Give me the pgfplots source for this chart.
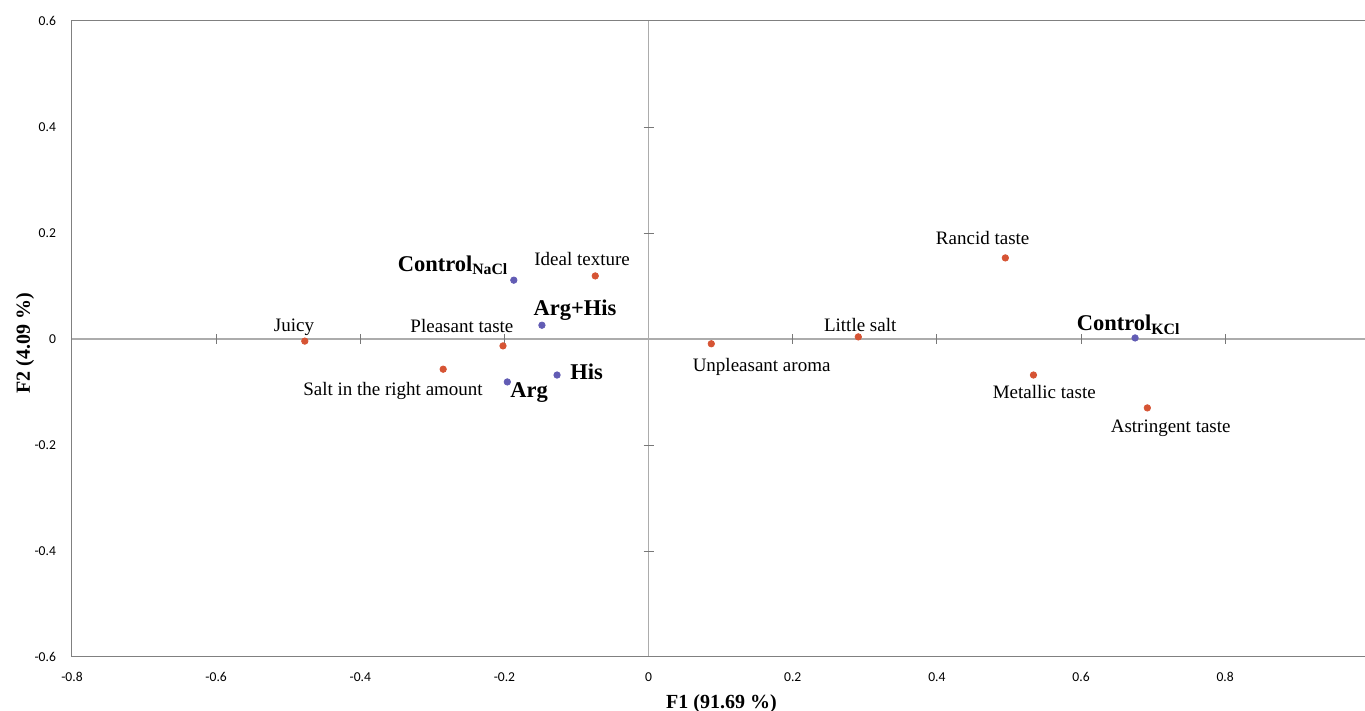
\documentclass[border=0pt]{standalone}
\usepackage{fontspec}
\setmainfont{Liberation Serif}
\newfontfamily\carlito{Carlito}
\usepackage{pgfplots}
\pgfplotsset{compat=1.18}
\definecolor{ptred}{RGB}{214,84,52}
\definecolor{ptblue}{RGB}{98,92,180}
\definecolor{framegray}{RGB}{128,128,128}
\definecolor{zerogray}{RGB}{172,172,172}
\definecolor{tickgray}{RGB}{120,120,120}
\begin{document}
\begin{tikzpicture}
\begin{axis}[
  scale only axis, width=646.5pt, height=318pt,
  xmin=-0.8, xmax=0.994, ymin=-0.6, ymax=0.6,
  axis line style={draw=none},
  clip=false,
  xtick={-0.8,-0.6,-0.4,-0.2,0,0.2,0.4,0.6,0.8},
  ytick={-0.6,-0.4,-0.2,0,0.2,0.4,0.6},
  major tick length=0pt,
  xticklabel style={font=\carlito\fontsize{6.8}{8}\selectfont, yshift=-4.3pt, /pgf/number format/.cd, fixed, precision=1, assume math mode=true},
  yticklabel style={font=\carlito\fontsize{6.8}{8}\selectfont, xshift=-4.5pt, /pgf/number format/.cd, fixed, precision=1, assume math mode=true},
  xlabel={\fontsize{10}{12}\selectfont\bfseries F1 (91.69 \%)},
  ylabel={\fontsize{10}{12}\selectfont\bfseries F2 (4.09 \%)},
  xlabel style={at={(axis description cs:0.5023,-0.0802)}, anchor=base},
  ylabel style={at={(axis description cs:-0.0325,0.4937)}, anchor=base},
]
% zero lines
\draw[zerogray, line width=0.6pt] (axis cs:-0.8,0) -- (axis cs:0.994,0);
\draw[zerogray, line width=0.6pt] (axis cs:0,-0.6) -- (axis cs:0,0.6);
% frame
\draw[framegray, line width=0.5pt] (rel axis cs:1,1) -- (rel axis cs:0,1) -- (rel axis cs:0,0) -- (rel axis cs:1,0);
% crossing ticks on zero lines
\pgfplotsinvokeforeach{-0.6,-0.4,-0.2,0.2,0.4,0.6,0.8}{
  \draw[tickgray, line width=0.4pt] (axis cs:#1,0) ++(0pt,-2.5pt) -- ++(0pt,5pt);
}
\pgfplotsinvokeforeach{-0.4,-0.2,0.2,0.4}{
  \draw[tickgray, line width=0.4pt] (axis cs:0,#1) ++(-2.5pt,0pt) -- ++(5pt,0pt);
}
% attributes
\addplot[only marks, mark=*, mark size=1.6pt, color=ptred, mark options={draw=ptred, fill=ptred}] coordinates {
  (-0.477,-0.004) (-0.285,-0.057) (-0.202,-0.013) (-0.074,0.119)
  (0.087,-0.009) (0.291,0.004) (0.495,0.153) (0.534,-0.068) (0.692,-0.130)
};
% products
\addplot[only marks, mark=*, mark size=1.6pt, color=ptblue, mark options={draw=ptblue, fill=ptblue}] coordinates {
  (-0.187,0.111) (-0.148,0.026) (-0.127,-0.068) (-0.196,-0.081) (0.675,0.002)
};
% labels (regular)
\node[font=\fontsize{9.5}{11}\selectfont, anchor=base, inner sep=0pt] at (axis cs:-0.492,0.0132) {Juicy};
\node[font=\fontsize{9.5}{11}\selectfont, anchor=base, inner sep=0pt] at (axis cs:-0.259,0.0126) {Pleasant taste};
\node[font=\fontsize{9.5}{11}\selectfont, anchor=base, inner sep=0pt] at (axis cs:-0.3546,-0.107) {Salt in the right amount};
\node[font=\fontsize{9.5}{11}\selectfont, anchor=base, inner sep=0pt] at (axis cs:-0.0923,0.1396) {Ideal texture};
\node[font=\fontsize{9.5}{11}\selectfont, anchor=base, inner sep=0pt] at (axis cs:0.1568,-0.0604) {Unpleasant aroma};
\node[font=\fontsize{9.5}{11}\selectfont, anchor=base, inner sep=0pt] at (axis cs:0.2936,0.0132) {Little salt};
\node[font=\fontsize{9.5}{11}\selectfont, anchor=base, inner sep=0pt] at (axis cs:0.4635,0.179) {Rancid taste};
\node[font=\fontsize{9.5}{11}\selectfont, anchor=base, inner sep=0pt] at (axis cs:0.549,-0.113) {Metallic taste};
\node[font=\fontsize{9.5}{11}\selectfont, anchor=base, inner sep=0pt] at (axis cs:0.7244,-0.1755) {Astringent taste};
% labels (bold)
\node[font=\fontsize{11.25}{13}\selectfont\bfseries, anchor=base, inner sep=0pt] at (axis cs:-0.2713,0.128) {Control\textsubscript{NaCl}};
\node[font=\fontsize{11.25}{13}\selectfont\bfseries, anchor=base, inner sep=0pt] at (axis cs:-0.102,0.0434) {Arg+His};
\node[font=\fontsize{11.25}{13}\selectfont\bfseries, anchor=base, inner sep=0pt] at (axis cs:-0.086,-0.0755) {His};
\node[font=\fontsize{11.25}{13}\selectfont\bfseries, anchor=base, inner sep=0pt] at (axis cs:-0.1658,-0.1113) {Arg};
\node[font=\fontsize{11.25}{13}\selectfont\bfseries, anchor=base, inner sep=0pt] at (axis cs:0.666,0.0151) {Control\textsubscript{KCl}};
\end{axis}
\pgfresetboundingbox
\path (-36pt,-27pt) rectangle (646.5pt,328.5pt);
\end{tikzpicture}
\end{document}
